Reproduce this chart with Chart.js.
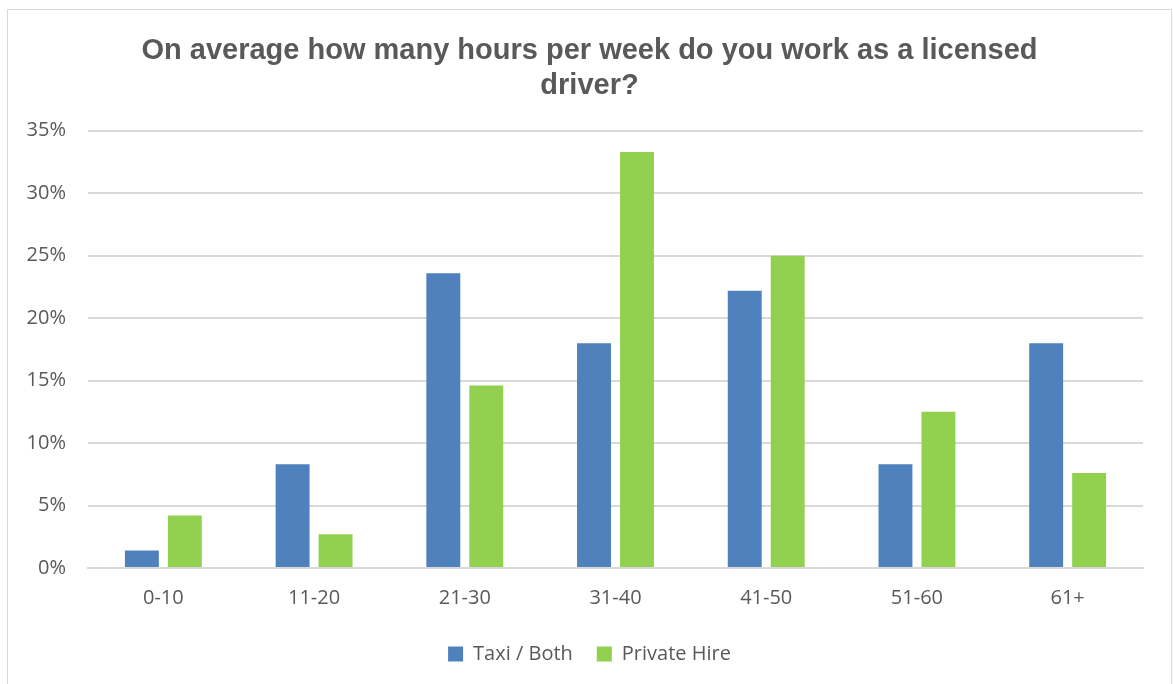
<!DOCTYPE html>
<html>
<head>
<meta charset="utf-8">
<script src="https://cdn.jsdelivr.net/npm/chart.js@4"></script>
<style>
  html, body { margin: 0; padding: 0; background: #fff; }
  #wrap {
    position: absolute; left: 7px; top: 9px;
    width: 1163px; height: 690px;
    border: 1px solid #d9d9d9;
  }
</style>
</head>
<body>
<div id="wrap"><canvas id="hoursChart"></canvas></div>
<script>
// --- chart data ---
const categories = ['0-10', '11-20', '21-30', '31-40', '41-50', '51-60', '61+'];
const taxiBoth = [1.4, 8.3, 23.6, 18.0, 22.2, 8.3, 18.0];
const privateHire = [4.2, 2.7, 14.6, 33.3, 25.0, 12.5, 7.6];
const yTicks = [0, 5, 10, 15, 20, 25, 30, 35];

const txt = '#595959';

new Chart(document.getElementById('hoursChart'), {
    type: 'bar',
    data: {
        labels: categories,
        datasets: [
            { label: 'Taxi / Both', data: taxiBoth, backgroundColor: '#4f81bd' },
            { label: 'Private Hire', data: privateHire, backgroundColor: '#92d050' }
        ]
    },
    options: {
        responsive: true,
        maintainAspectRatio: false,
        animation: false,
        categoryPercentage: 0.57,
        barPercentage: 0.79,
        layout: { padding: { left: 0, right: 0, top: 23, bottom: 26 } },
        plugins: {
            title: {
                display: true,
                text: ['On average how many hours per week do you work as a licensed', 'driver?'],
                color: txt,
                font: { family: 'Liberation Sans', size: 29, weight: 'bold', lineHeight: 1.22 },
                padding: { top: 0, bottom: 27 }
            },
            legend: {
                position: 'bottom',
                labels: {
                    color: txt,
                    font: { family: 'Open Sans', size: 20 },
                    boxWidth: 15, boxHeight: 15,
                    padding: 24
                }
            },
            tooltip: { enabled: false }
        },
        scales: {
            x: {
                grid: { display: false },
                border: { color: '#d9d9d9', width: 2 },
                ticks: { color: txt, font: { family: 'Open Sans', size: 20 }, padding: 10 }
            },
            y: {
                min: 0, max: 35,
                afterBuildTicks: axis => { axis.ticks = yTicks.map(v => ({ value: v })); },
                afterFit: axis => { axis.width = 80; },
                grid: { color: '#d9d9d9', lineWidth: 2, drawTicks: false },
                border: { display: false },
                ticks: {
                    color: txt, font: { family: 'Open Sans', size: 20 }, padding: 22,
                    callback: v => v + '%'
                }
            },
            // empty right-hand gutter so the title and legend sit centred like the original
            gutter: {
                position: 'right',
                afterFit: axis => { axis.width = 28; },
                grid: { display: false },
                border: { display: false },
                ticks: { display: false }
            }
        }
    }
});
</script>
</body>
</html>
